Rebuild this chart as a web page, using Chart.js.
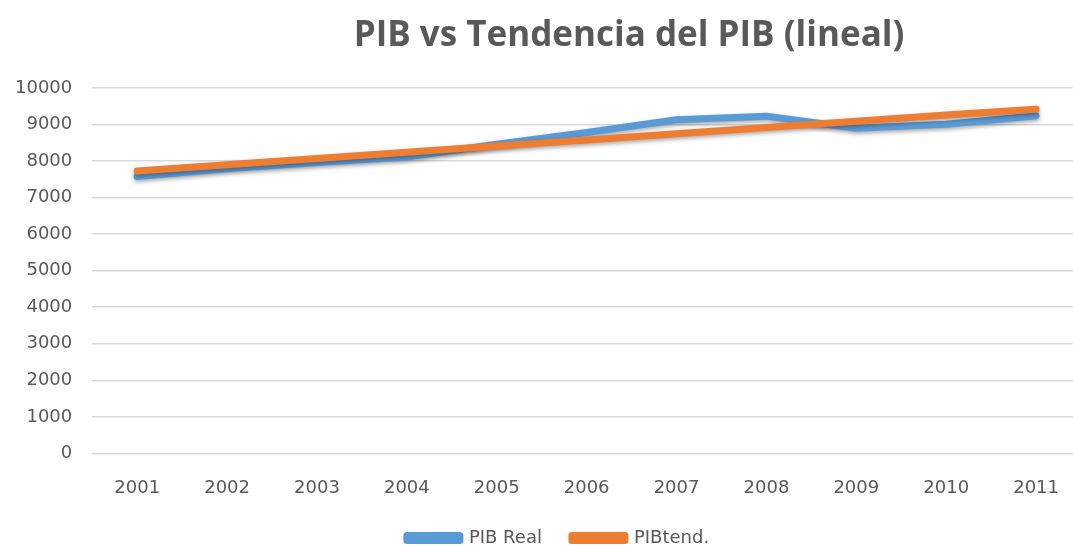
<!DOCTYPE html>
<html>
<head>
<meta charset="utf-8">
<script src="https://cdn.jsdelivr.net/npm/chart.js@4/dist/chart.umd.min.js"></script>
<style>
  html, body { margin: 0; padding: 0; background: #fff; overflow: hidden; }
  #wrap { width: 1088px; height: 561px; margin-left: -5px; position: relative; }
</style>
</head>
<body>
<div id="wrap"><canvas id="pibChart"></canvas></div>
<script>
// PIB vs tendencia lineal, 2001-2011
const years = ['2001', '2002', '2003', '2004', '2005', '2006', '2007', '2008', '2009', '2010', '2011'];
const pibReal = [7580, 7790, 7960, 8110, 8460, 8780, 9130, 9230, 8900, 9010, 9240];
const pibTend = [7730, 7900, 8070, 8240, 8410, 8580, 8750, 8920, 9090, 9260, 9420];
const yTicks = [0, 1000, 2000, 3000, 4000, 5000, 6000, 7000, 8000, 9000, 10000];

const titleText = 'PIB vs Tendencia del PIB (lineal)';
const textColor = '#595959';
const tickFont = { family: '"DejaVu Sans", sans-serif', size: 18 };

// title is centred over the plot area, not the canvas (like Excel)
const plotTitle = {
    id: 'plotTitle',
    afterDraw(chart) {
        const { ctx } = chart;
        ctx.save();
        ctx.font = 'bold 35px "Open Sans", sans-serif';
        ctx.fillStyle = textColor;
        ctx.textAlign = 'center';
        ctx.textBaseline = 'middle';
        ctx.fillText(titleText, 634, 36);
        ctx.restore();
    }
};

// legend sits a little right of the canvas centre in the original
const legendShift = {
    id: 'legendShift',
    afterLayout(chart) {
        chart.legend.left += 19;
        chart.legend.right += 19;
    }
};

// soft drop shadow under the lines
const lineShadow = {
    id: 'lineShadow',
    beforeDatasetDraw(chart) {
        const { ctx } = chart;
        ctx.save();
        ctx.shadowColor = 'rgba(0,0,0,0.35)';
        ctx.shadowBlur = 4;
        ctx.shadowOffsetY = 2;
    },
    afterDatasetDraw(chart) {
        chart.ctx.restore();
    }
};

new Chart(document.getElementById('pibChart'), {
    type: 'line',
    data: {
        labels: years,
        datasets: [
            {
                label: 'PIB Real',
                data: pibReal,
                borderColor: '#5b9bd5',
                backgroundColor: '#5b9bd5',
                borderWidth: 7,
                pointRadius: 0,
                tension: 0,
                borderJoinStyle: 'round',
                borderCapStyle: 'round',
                order: 2
            },
            {
                label: 'PIBtend.',
                data: pibTend,
                borderColor: '#ed7d31',
                backgroundColor: '#ed7d31',
                borderWidth: 7,
                pointRadius: 0,
                tension: 0,
                borderJoinStyle: 'round',
                borderCapStyle: 'round',
                order: 1
            }
        ]
    },
    options: {
        responsive: true,
        maintainAspectRatio: false,
        animation: false,
        layout: { padding: { top: 88, left: 0, right: 0, bottom: 4 } },
        plugins: {
            title: { display: false },
            tooltip: { enabled: false },
            legend: {
                position: 'bottom',
                labels: {
                    color: textColor,
                    font: { family: '"DejaVu Sans", sans-serif', size: 18 },
                    boxWidth: 53,
                    boxHeight: 5,
                    padding: 30,
                    sort: (a, b) => a.datasetIndex - b.datasetIndex
                }
            }
        },
        scales: {
            x: {
                offset: true,
                grid: { display: false, drawTicks: false },
                border: { display: false },
                ticks: {
                    color: textColor,
                    font: tickFont,
                    padding: 24,
                    maxRotation: 0
                },
                // pull the legend up: its wide item padding also adds height
                afterFit(axis) { axis.height -= 24; }
            },
            y: {
                min: 0,
                max: 10000,
                afterBuildTicks(axis) { axis.ticks = yTicks.map(v => ({ value: v })); },
                grid: { color: '#d9d9d9', lineWidth: 1.5, drawTicks: false },
                border: { display: false },
                ticks: {
                    color: textColor,
                    font: tickFont,
                    padding: 20,
                    callback: v => String(v)
                }
            }
        }
    },
    plugins: [plotTitle, legendShift, lineShadow]
});
</script>
</body>
</html>
